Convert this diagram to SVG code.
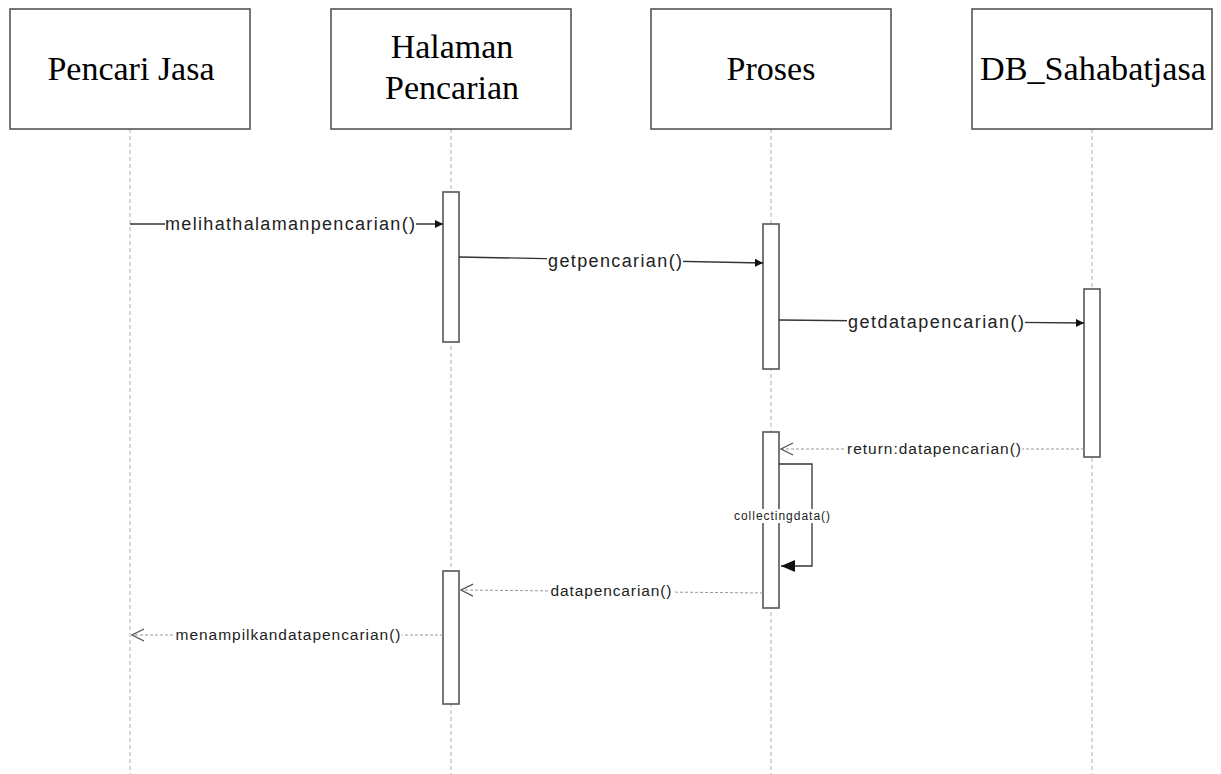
<svg xmlns="http://www.w3.org/2000/svg" width="1221" height="774" viewBox="0 0 1221 774">
<style>
.box{fill:#fff;stroke:#555;stroke-width:1.6}
.title{font-family:"Liberation Serif",serif;font-size:34px;fill:#000;text-anchor:middle}
.life{stroke:#b0b0b0;stroke-width:1;stroke-dasharray:4 3;fill:none}
.act{fill:#fff;stroke:#555;stroke-width:1.6}
.msg{stroke:#333;stroke-width:1.3;fill:none}
.ret{stroke:#999;stroke-width:1;stroke-dasharray:3 2;fill:none}
.lbl{font-family:"Liberation Sans",sans-serif;fill:#222;text-anchor:middle}
.bg{fill:#fff}
</style>
<defs>
<marker id="filled" markerWidth="8" markerHeight="10" refX="8" refY="5" orient="auto" markerUnits="userSpaceOnUse">
<path d="M0,1 L8,5 L0,9 Z" fill="#111"/>
</marker>
<marker id="bigfilled" markerWidth="14" markerHeight="12" refX="14" refY="6" orient="auto" markerUnits="userSpaceOnUse">
<path d="M0,0 L14,6 L0,12 Z" fill="#111"/>
</marker>
<marker id="open" markerWidth="14" markerHeight="14" refX="13" refY="7" orient="auto" markerUnits="userSpaceOnUse">
<path d="M1,1 L13,7 L1,13" fill="none" stroke="#555" stroke-width="1.3"/>
</marker>
</defs>

<g id="lifelines">
<line class="life" x1="130" y1="129" x2="130" y2="774"/>
<line class="life" x1="451" y1="129" x2="451" y2="774"/>
<line class="life" x1="771" y1="129" x2="771" y2="774"/>
<line class="life" x1="1092" y1="129" x2="1092" y2="774"/>
</g>

<g id="node-pencari">
<rect class="box" x="10" y="9" width="240" height="120"/>
<text class="title" x="131" y="80">Pencari Jasa</text>
</g>
<g id="node-halaman">
<rect class="box" x="331" y="9" width="240" height="120"/>
<text class="title" x="452" y="58">Halaman</text>
<text class="title" x="452" y="99">Pencarian</text>
</g>
<g id="node-proses">
<rect class="box" x="651" y="9" width="240" height="120"/>
<text class="title" x="771" y="80">Proses</text>
</g>
<g id="node-db">
<rect class="box" x="972" y="9" width="240" height="120"/>
<text class="title" x="1093" y="80" textLength="226" lengthAdjust="spacingAndGlyphs">DB_Sahabatjasa</text>
</g>

<g id="activations">
<rect class="act" x="443" y="192" width="16" height="150"/>
<rect class="act" x="763" y="224" width="16" height="145"/>
<rect class="act" x="1084" y="289" width="16" height="168"/>
<rect class="act" x="763" y="432" width="16" height="176"/>
<rect class="act" x="443" y="571" width="16" height="133"/>
</g>

<g id="connectors">
<line class="msg" x1="130" y1="224" x2="443" y2="224" marker-end="url(#filled)"/>
<rect class="bg" x="165" y="213" width="251" height="22"/>
<text class="lbl" x="290" y="230" font-size="18" textLength="250" lengthAdjust="spacing">melihathalamanpencarian()</text>

<line class="msg" x1="459" y1="257" x2="763" y2="263" marker-end="url(#filled)"/>
<rect class="bg" x="547" y="249" width="136" height="22"/>
<text class="lbl" x="615" y="267" font-size="18" textLength="134" lengthAdjust="spacing">getpencarian()</text>

<line class="msg" x1="779" y1="320" x2="1084" y2="323" marker-end="url(#filled)"/>
<rect class="bg" x="847" y="311" width="178" height="22"/>
<text class="lbl" x="936" y="328" font-size="18" textLength="176" lengthAdjust="spacing">getdatapencarian()</text>

<line class="ret" x1="1084" y1="449" x2="781" y2="449" marker-end="url(#open)"/>
<rect class="bg" x="846" y="440" width="176" height="18"/>
<text class="lbl" x="934" y="454" font-size="15.5" textLength="174" lengthAdjust="spacing">return:datapencarian()</text>

<polyline class="msg" points="779,464 812,464 812,566 781,566" marker-end="url(#bigfilled)"/>
<rect class="bg" x="733" y="509" width="98" height="14"/>
<text class="lbl" x="782" y="520" font-size="12" textLength="96" lengthAdjust="spacing">collectingdata()</text>

<line class="ret" x1="763" y1="593" x2="461" y2="590" marker-end="url(#open)"/>
<rect class="bg" x="549" y="582" width="125" height="18"/>
<text class="lbl" x="611" y="596" font-size="15.5" textLength="121" lengthAdjust="spacing">datapencarian()</text>

<line class="ret" x1="443" y1="635" x2="132" y2="635" marker-end="url(#open)"/>
<rect class="bg" x="173" y="626" width="229" height="18"/>
<text class="lbl" x="288" y="640" font-size="15.5" textLength="225" lengthAdjust="spacing">menampilkandatapencarian()</text>
</g>
</svg>
